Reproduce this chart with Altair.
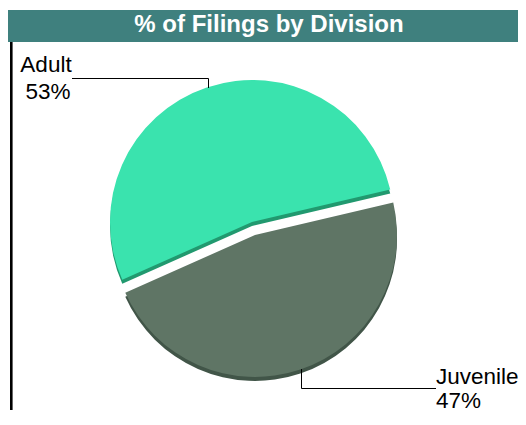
import math
import altair as alt
import pandas as pd

# ---- data ----
divisions = ["Adult", "Juvenile"]
shares = [53, 47]
stack_order = [1, 0]
face_colors = ["#3ae3ae", "#5f7565"]
side_colors = ["#21996f", "#415548"]
title_text = "% of Filings by Division"

df = pd.DataFrame({"division": divisions, "share": shares, "ord": stack_order})
one = alt.Data(values=[{"k": 1}])

FONT = "Liberation Sans"
R = 142
DEPTH = 4
LABEL_SIZE = 22.5
start = math.radians(76.8)
theta = alt.Theta("share:Q", stack=True,
                  scale=alt.Scale(range=[start, start + 2 * math.pi]))
order = alt.Order("ord:Q")


def slice_layer(name, cx, cy, colors):
    test = f"datum.division == '{divisions[0]}'"
    return alt.Chart(df).mark_arc(radius=R, strokeWidth=0).encode(
        theta=theta,
        order=order,
        x=alt.value(cx),
        y=alt.value(cy),
        fill=alt.condition(test, alt.value(colors[0]), alt.value(colors[1])),
        opacity=alt.condition(f"datum.division == '{name}'", alt.value(1), alt.value(0)),
    )


adult_c = (244, 214)
juv_c = (247, 227)

layers = [
    # title bar
    alt.Chart(one).mark_rect(color="#3f807e").encode(
        x=alt.value(0), x2=alt.value(510), y=alt.value(2), y2=alt.value(34)),
    alt.Chart(one).mark_text(text=title_text, font=FONT, fontSize=24, fontWeight="bold",
                             color="white", align="center", baseline="alphabetic").encode(
        x=alt.value(261), y=alt.value(24)),
    # left rule
    alt.Chart(one).mark_rule(color="black", strokeWidth=2.6).encode(
        x=alt.value(3.3), y=alt.value(34), y2=alt.value(402)),
    # sides (3D depth)
    slice_layer("Adult", adult_c[0], adult_c[1] + DEPTH, side_colors),
    slice_layer("Juvenile", juv_c[0], juv_c[1] + DEPTH, side_colors),
    # faces
    slice_layer("Adult", adult_c[0], adult_c[1], face_colors),
    slice_layer("Juvenile", juv_c[0], juv_c[1], face_colors),
    # leader lines
    alt.Chart(one).mark_rule(color="black", strokeWidth=1).encode(
        x=alt.value(64), x2=alt.value(200.5), y=alt.value(70.5)),
    alt.Chart(one).mark_rule(color="black", strokeWidth=1).encode(
        x=alt.value(200.5), y=alt.value(70.5), y2=alt.value(80)),
    alt.Chart(one).mark_rule(color="black", strokeWidth=1).encode(
        x=alt.value(293.5), y=alt.value(361), y2=alt.value(380.5)),
    alt.Chart(one).mark_rule(color="black", strokeWidth=1).encode(
        x=alt.value(293.5), x2=alt.value(428), y=alt.value(380.5)),
    # labels
    alt.Chart(df).transform_filter("datum.division == 'Adult'").mark_text(
        font=FONT, fontSize=LABEL_SIZE, align="center", baseline="alphabetic", color="black").encode(
        text="division:N", x=alt.value(38), y=alt.value(64)),
    alt.Chart(df).transform_filter("datum.division == 'Adult'").transform_calculate(
        pct="datum.share + '%'").mark_text(
        font=FONT, fontSize=LABEL_SIZE, align="center", baseline="alphabetic", color="black").encode(
        text="pct:N", x=alt.value(40), y=alt.value(91)),
    alt.Chart(df).transform_filter("datum.division == 'Juvenile'").mark_text(
        font=FONT, fontSize=LABEL_SIZE, align="left", baseline="alphabetic", color="black").encode(
        text="division:N", x=alt.value(428), y=alt.value(376)),
    alt.Chart(df).transform_filter("datum.division == 'Juvenile'").transform_calculate(
        pct="datum.share + '%'").mark_text(
        font=FONT, fontSize=LABEL_SIZE, align="left", baseline="alphabetic", color="black").encode(
        text="pct:N", x=alt.value(428), y=alt.value(400)),
]

chart = alt.layer(*layers).properties(
    width=510, height=409, padding=0,
    autosize=alt.AutoSizeParams(type="none"),
).configure_view(strokeWidth=0)

chart.save("out.html", embed_options={"renderer": "svg", "actions": False})
